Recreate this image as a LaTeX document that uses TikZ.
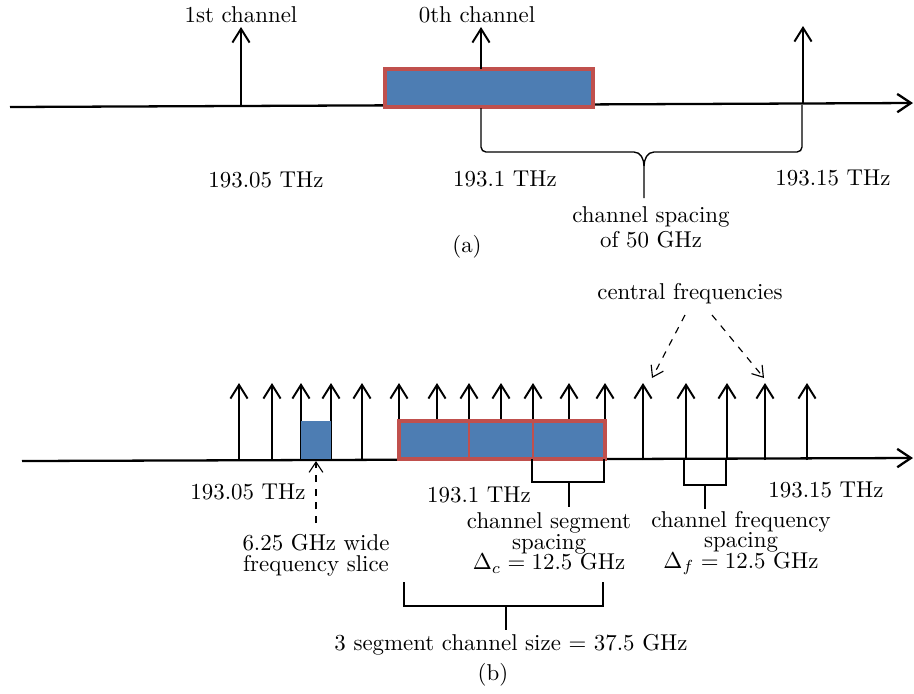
\documentclass[tikz,border=0pt]{standalone}
\usetikzlibrary{arrows.meta}
\definecolor{boxblue}{HTML}{4D7DB3}
\definecolor{boxred}{HTML}{C0504D}
\begin{document}
\begin{tikzpicture}[x=0.437pt,y=-0.437pt,
  ax/.style={line width=1pt,-{Straight Barb[length=6pt,width=8pt]}},
  carrier/.style={line width=0.85pt,-{Straight Barb[length=6pt,width=7.5pt]}},
  dasharrow/.style={dashed,line width=0.5pt,-{Straight Barb[length=4.5pt,width=6pt]}},
  brk/.style={line width=0.7pt},
  specbox/.style={draw=boxred,fill=boxblue,line width=1.4pt},
  lbl/.style={inner sep=0pt,align=center}]
\useasboundingbox (0,0) rectangle (914,693);
% ---------------- (a) ----------------
\coordinate (aL) at (10,107);
\coordinate (aR) at (913,103);
\draw[ax] (aL) -- (aR);
\draw[carrier] (241,106) coordinate (c1b) -- (241,27) coordinate (c1t);
\draw[carrier] (803,104) coordinate (c2b) -- (803,26) coordinate (c2t);
\draw[specbox] (385,69) rectangle (593,107);
\coordinate (c0b) at (481,69);
\coordinate (c0t) at (481,27);
\draw[carrier] (c0b) -- (c0t);
% brace
\coordinate (brL) at (481,108);
\coordinate (brR) at (802,105);
\coordinate (brTip) at (644,198);
\draw[brk,line width=0.6pt] (brL) -- (481,147) to[out=-90,in=180] (486,152) -- (634,152)
  to[out=0,in=90] (644,166) -- (brTip);
\draw[brk,line width=0.6pt] (644,166) to[out=90,in=180] (654,152) -- (797,152)
  to[out=0,in=-90] (802,147) -- (brR);
\node[lbl] (l1st) at (241,15) {1st channel};
\node[lbl] (l0th) at (477,15) {0th channel};
\node[lbl] (fa1) at (266,180) {193.05 THz};
\node[lbl] (fa2) at (505,179) {193.1 THz};
\node[lbl] (fa3) at (833,178) {193.15 THz};
\node[lbl] (spa) at (651,227) {channel spacing\\[-1pt]of 50 GHz};
\node[lbl] (capa) at (467,247) {(a)};
% ---------------- (b) ----------------
\coordinate (bL) at (22,461);
\coordinate (bR) at (913,458);
\draw[ax] (bL) -- (bR);
\foreach \x in {239,272,301,331,362,399,437,469,501,533,569,605,643,686,727,765,807}
  \draw[carrier] (\x,460) -- (\x,383);
\fill[boxblue] (301,421) rectangle (331,459);
\draw[specbox] (399,421) rectangle (605,459);
\draw[boxred,line width=1.2pt] (469,421) -- (469,459) (533,421) -- (533,459);
% slice arrow
\coordinate (slB) at (316,523);
\coordinate (slT) at (316,461);
\draw[dasharrow] (slB) -- (slT);
% central frequencies
\node[lbl] (cf) at (690,294) {central frequencies};
\coordinate (cfA) at (652,378);
\coordinate (cfB) at (764,378);
\draw[dasharrow] (685,315) -- (cfA);
\draw[dasharrow] (712,315) -- (cfB);
% segment spacing bracket
\draw[brk] (532,459) -- (532,482) -- (604,482) -- (604,459);
\draw[brk] (569,482) -- (569,507);
% frequency spacing bracket
\draw[brk] (684,459) -- (684,485) -- (726,485) -- (726,459);
\draw[brk] (705,485) -- (705,509);
% channel size bracket
\draw[brk] (404,582) -- (404,606) -- (603,606) -- (603,582);
\draw[brk] (506,606) -- (506,630);
% labels
\node[lbl] (fb1) at (248,492) {193.05 THz};
\node[lbl] (fb2) at (479,495) {193.1 THz};
\node[lbl] (fb3) at (826,490) {193.15 THz};
\node[lbl] (seg) at (549,543) {channel segment\\[-3pt]spacing\\[-3pt]$\Delta_c = 12.5$ GHz};
\node[lbl] (frq) at (741,543) {channel frequency\\[-3pt]spacing\\[-3pt]$\Delta_f = 12.5$ GHz};
\node[lbl] (sl) at (316,555) {6.25 GHz wide\\[-3pt]frequency slice};
\node[lbl] (sz) at (511,645) {3 segment channel size $=$ 37.5 GHz};
\node[lbl] (capb) at (493,675) {(b)};
\end{tikzpicture}
\end{document}
